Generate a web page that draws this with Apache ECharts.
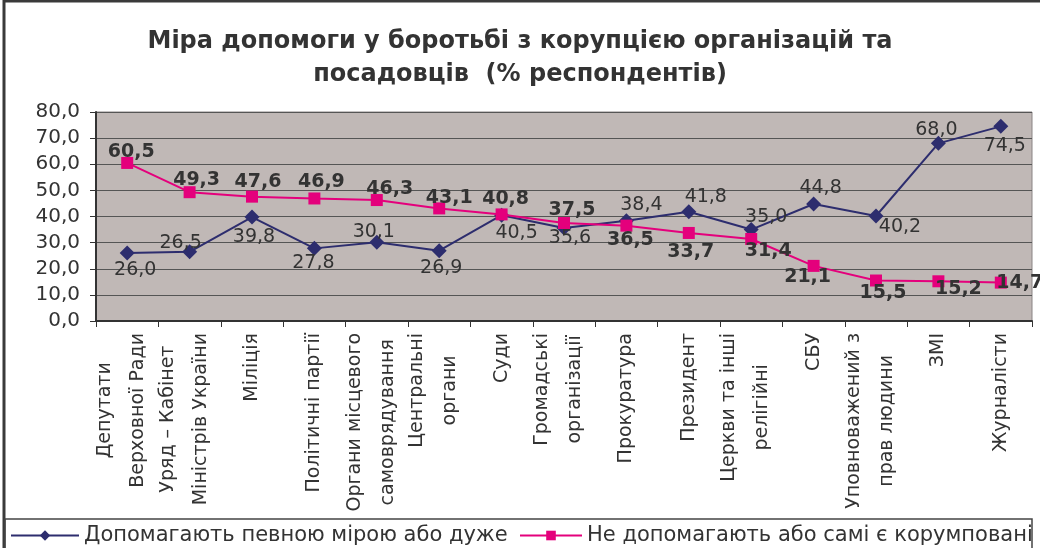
<!DOCTYPE html>
<html>
<head>
<meta charset="utf-8">
<script src="https://cdn.jsdelivr.net/npm/echarts@6/dist/echarts.min.js"></script>
<style>
  html, body { margin: 0; padding: 0; background: #fff; }
  #chart { width: 1040px; height: 548px; }
</style>
</head>
<body>
<div id="chart"></div>
<script>
// categories
var categories = [
  'Депутати\nВерховної Ради', 'Уряд – Кабінет\nМіністрів України', 'Міліція',
  'Політичні партії', 'Органи місцевого\nсамоврядування', 'Центральні\nоргани',
  'Суди', 'Громадські\nорганізації', 'Прокуратура', 'Президент',
  'Церкви та інші\nрелігійні', 'СБУ', 'Уповноважений з\nправ людини', 'ЗМІ', 'Журналісти'
];
var seriesNames = ['Допомагають певною мірою або дуже', 'Не допомагають або самі є корумповані'];
var helpValues = [26.0, 26.5, 39.8, 27.8, 30.1, 26.9, 40.5, 35.6, 38.4, 41.8, 35.0, 44.8, 40.2, 68.0, 74.5];
var notHelpValues = [60.5, 49.3, 47.6, 46.9, 46.3, 43.1, 40.8, 37.5, 36.5, 33.7, 31.4, 21.1, 15.5, 15.2, 14.7];

// value label shift from its point, px [dx, dy]
var helpLabelShift = [[8,17],[-9,-9],[2,20],[-1,15],[-3,-10],[2,17],[15,18],[6,10],[15,-16],[17,-15],[15,-13],[7,-16],[24,11],[-2,-13],[4,20]];
var notHelpLabelShift = [[4,-11],[7,-12],[6,-15],[7,-16],[13,-11],[10,-10],[4,-15],[8,-13],[4,14],[2,19],[17,12],[-6,11],[7,13],[20,8],[19,0]];

var FONT = '"DejaVu Sans", sans-serif';
var fmt = function (v) { return v.toFixed(1).replace('.', ','); };

function withLabels(values, shift) {
  return values.map(function (v, i) {
    return { value: v, label: { offset: shift[i] } };
  });
}

var myChart = echarts.init(document.getElementById('chart'));
var option = {
  backgroundColor: '#fff',
  animation: false,
  title: {
    text: 'Міра допомоги у боротьбі з корупцією організацій та\nпосадовців  (% респондентів)',
    left: 'center',
    top: 25,
    padding: 0,
    textStyle: { fontFamily: FONT, fontSize: 24, fontWeight: 'bold', color: '#333', lineHeight: 33 }
  },
  graphic: [
    { type: 'rect', shape: { x: 4, y: 1, width: 1060, height: 600 }, style: { fill: 'none', stroke: '#3a3a3a', lineWidth: 3 }, z: 100 },
    { type: 'rect', shape: { x: 5, y: 519, width: 1027, height: 40 }, style: { fill: 'none', stroke: '#444', lineWidth: 1.5 }, z: 100 }
  ],
  legend: [
    {
      left: 10, top: 525, padding: 0, itemWidth: 68, itemHeight: 13,
      data: [seriesNames[0]],
      textStyle: { fontFamily: FONT, fontSize: 21, color: '#333' }
    },
    {
      left: 519, top: 525, padding: 0, itemWidth: 62, itemHeight: 12,
      data: [seriesNames[1]],
      textStyle: { fontFamily: FONT, fontSize: 21, color: '#333' }
    }
  ],
  grid: {
    left: 96, right: 8, top: 112, bottom: 227,
    show: true, backgroundColor: '#c0b8b6', borderColor: '#8a8484', borderWidth: 1
  },
  xAxis: {
    type: 'category',
    data: categories,
    axisLine: { lineStyle: { color: '#333', width: 2 } },
    axisTick: { show: true, length: 6, lineStyle: { color: '#333' } },
    axisLabel: {
      interval: 0,
      rotate: 90,
      margin: 12,
      formatter: function (v) {
        return v.split('\n').map(function (s, i) { return (i === 0 ? '{a|' : '{b|') + s + '}'; }).join('\n');
      },
      rich: {
        a: { align: 'center', fontFamily: FONT, fontSize: 19, color: '#333', lineHeight: 22 },
        b: { align: 'center', fontFamily: FONT, fontSize: 19, color: '#333', lineHeight: 44 }
      }
    }
  },
  yAxis: {
    type: 'value',
    min: 0, max: 80, interval: 10,
    axisLine: { show: true, lineStyle: { color: '#333', width: 2 } },
    axisTick: { show: true, length: 6, lineStyle: { color: '#333' } },
    splitLine: { lineStyle: { color: '#555', width: 1 } },
    axisLabel: {
      formatter: fmt,
      margin: 16,
      fontFamily: FONT, fontSize: 20, color: '#333'
    }
  },
  series: [
    {
      name: seriesNames[0],
      type: 'line',
      data: withLabels(helpValues, helpLabelShift),
      symbol: 'diamond',
      symbolSize: 15,
      itemStyle: { color: '#2d2d6e' },
      lineStyle: { color: '#2d2d6e', width: 2 },
      label: {
        show: true, position: 'inside',
        formatter: function (p) { return fmt(p.value); },
        fontFamily: FONT, fontSize: 19, color: '#333'
      },
      z: 3
    },
    {
      name: seriesNames[1],
      type: 'line',
      data: withLabels(notHelpValues, notHelpLabelShift),
      symbol: 'rect',
      symbolSize: 12,
      itemStyle: { color: '#e4007c' },
      lineStyle: { color: '#e4007c', width: 2 },
      label: {
        show: true, position: 'inside',
        formatter: function (p) { return fmt(p.value); },
        fontFamily: FONT, fontSize: 19, fontWeight: 'bold', color: '#333'
      },
      z: 4
    }
  ]
};
myChart.setOption(option);
</script>
</body>
</html>
